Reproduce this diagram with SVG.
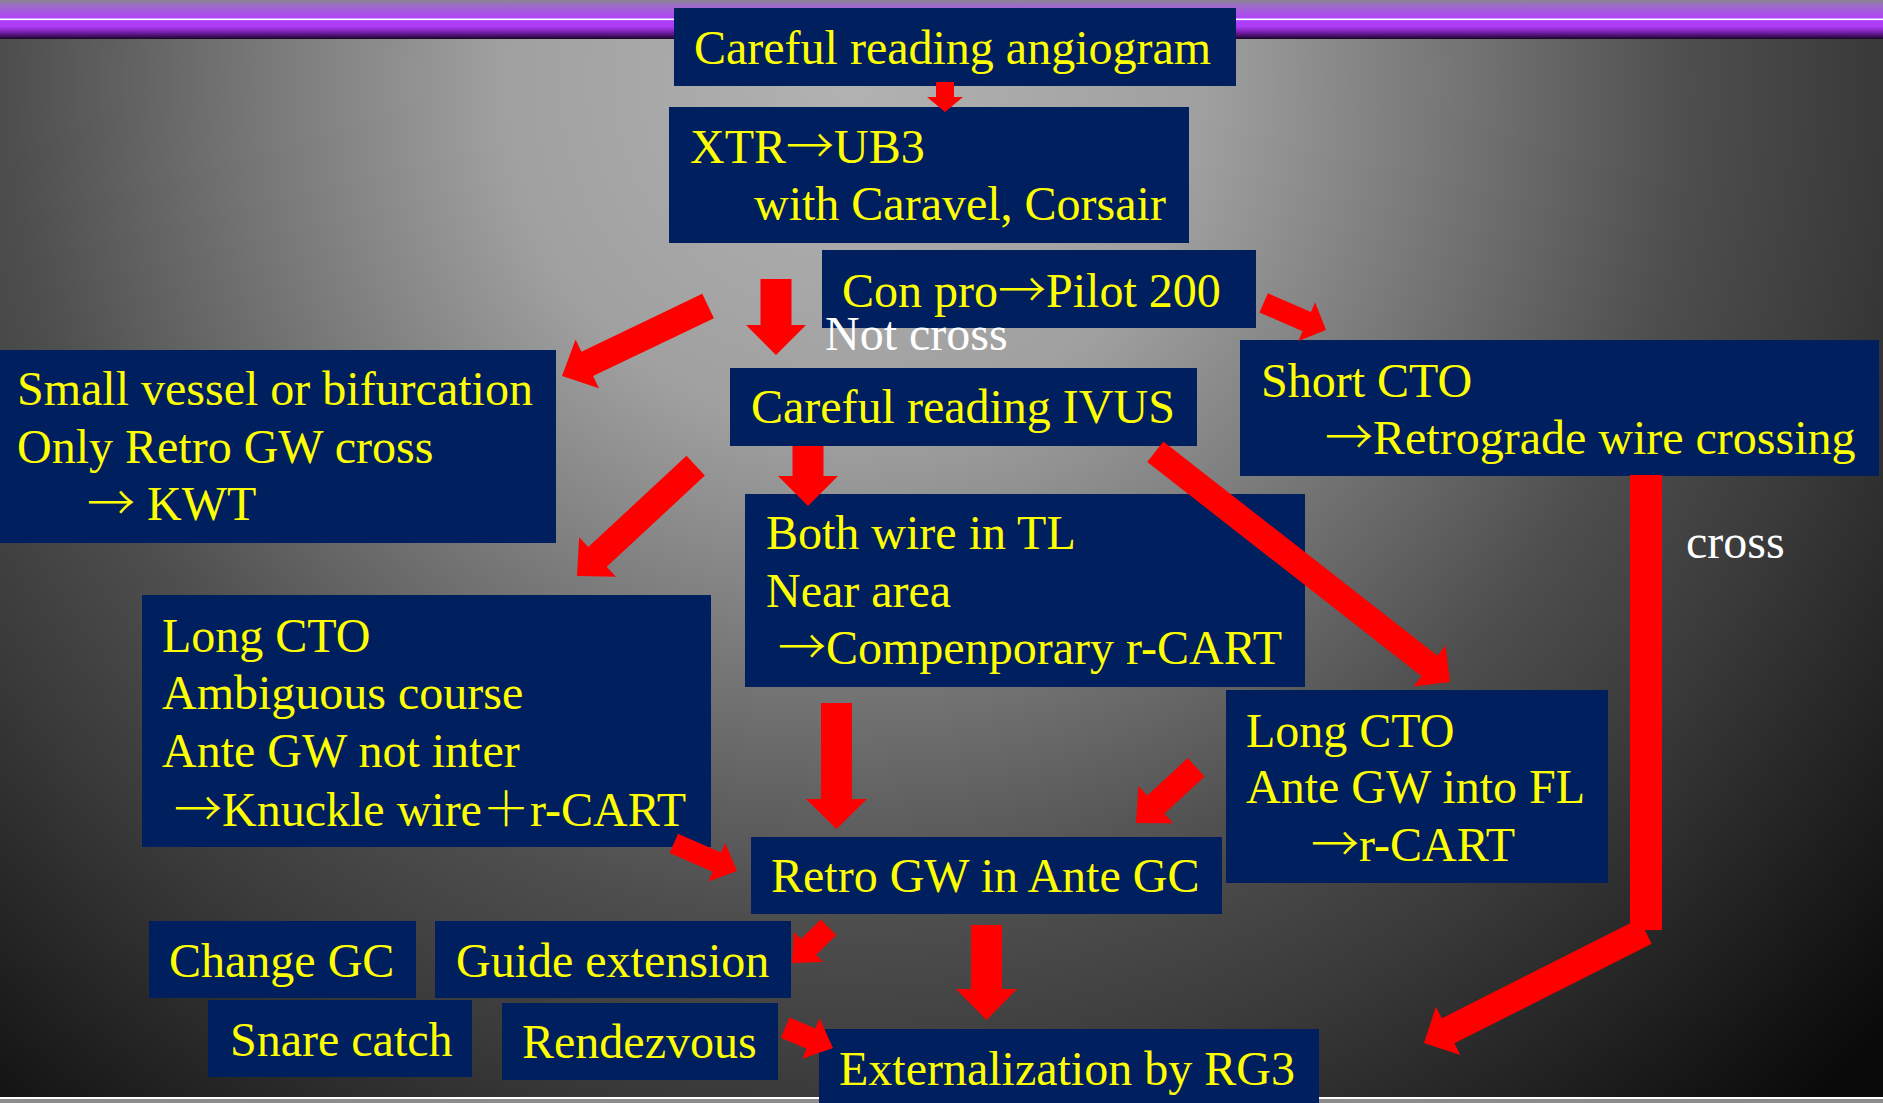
<svg xmlns="http://www.w3.org/2000/svg" width="1883" height="1103" viewBox="0 0 1883 1103">
<defs>
<radialGradient id="bg" gradientUnits="userSpaceOnUse" cx="850" cy="80" r="1400">
<stop offset="0" stop-color="#b2b2b2"/>
<stop offset="0.25" stop-color="#a0a0a0"/>
<stop offset="0.6" stop-color="#4e4e4e"/>
<stop offset="0.73" stop-color="#3a3a3a"/>
<stop offset="1" stop-color="#0a0a0a"/>
</radialGradient>
<linearGradient id="band" x1="0" y1="0" x2="0" y2="1">
<stop offset="0" stop-color="#8c8590"/>
<stop offset="0.12" stop-color="#9a70c0"/>
<stop offset="0.3" stop-color="#a658e0"/>
<stop offset="0.5" stop-color="#b040ff"/>
<stop offset="0.68" stop-color="#ae3cf6"/>
<stop offset="0.82" stop-color="#7a20b0"/>
<stop offset="1" stop-color="#1a0428"/>
</linearGradient>
<style>
.box{fill:#001F5F}
.t{font-family:"Liberation Serif",serif;font-size:48px;fill:#FFFF00}
.w{font-family:"Liberation Serif",serif;font-size:48px;fill:#FFFFFF}
.cjk{font-family:"Noto Sans CJK JP",sans-serif;font-weight:300}
.arr{fill:#FF0000}
</style>
</defs>
<rect x="0" y="0" width="1883" height="1103" fill="url(#bg)"/>
<rect x="0" y="0" width="1883" height="39" fill="url(#band)"/>
<rect x="0" y="18.5" width="1883" height="1.6" fill="#ffffff"/>
<rect x="0" y="1097" width="1883" height="2" fill="#ffffff"/>
<rect x="0" y="1099" width="1883" height="4" fill="#8c8c8c"/>

<g id="n-angiogram"><rect class="box" x="674" y="8" width="562" height="78"/><text class="t" x="694" y="64">Careful reading angiogram</text></g>
<g id="n-xtr"><rect class="box" x="669" y="107" width="520" height="136"/><text class="t" x="690" y="163">XTR<tspan class="cjk">→</tspan>UB3</text><text class="t" x="754" y="220">with Caravel, Corsair</text></g>
<g id="n-conpro"><rect class="box" x="822" y="250" width="434" height="78"/><text class="t" x="842" y="307">Con pro<tspan class="cjk">→</tspan>Pilot 200</text></g>
<g id="n-small"><rect class="box" x="0" y="350" width="556" height="193"/><text class="t" x="17" y="405">Small vessel or bifurcation</text><text class="t" x="17" y="463">Only Retro GW cross</text><text class="t" x="87" y="520"><tspan class="cjk">→</tspan> KWT</text></g>
<g id="n-ivus"><rect class="box" x="730" y="368" width="467" height="78"/><text class="t" x="751" y="423">Careful reading IVUS</text></g>
<g id="n-short"><rect class="box" x="1240" y="340" width="639" height="136"/><text class="t" x="1261" y="397">Short CTO</text><text class="t" x="1325" y="454"><tspan class="cjk">→</tspan>Retrograde wire crossing</text></g>
<g id="n-both"><rect class="box" x="745" y="494" width="560" height="193"/><text class="t" x="766" y="549">Both wire in TL</text><text class="t" x="766" y="607">Near area</text><text class="t" x="778" y="664"><tspan class="cjk">→</tspan>Compenporary r-CART</text></g>
<g id="n-longleft"><rect class="box" x="142" y="595" width="569" height="252"/><text class="t" x="162" y="652">Long CTO</text><text class="t" x="162" y="709">Ambiguous course</text><text class="t" x="162" y="767">Ante GW not inter</text><text class="t" x="174" y="826"><tspan class="cjk">→</tspan>Knuckle wire<tspan class="cjk">＋</tspan>r-CART</text></g>
<g id="n-longright"><rect class="box" x="1226" y="690" width="382" height="193"/><text class="t" x="1246" y="747">Long CTO</text><text class="t" x="1246" y="803">Ante GW into FL</text><text class="t" x="1311" y="861"><tspan class="cjk">→</tspan>r-CART</text></g>
<g id="n-retro"><rect class="box" x="751" y="837" width="471" height="77"/><text class="t" x="771" y="892">Retro GW in Ante GC</text></g>
<g id="n-changegc"><rect class="box" x="149" y="921" width="267" height="77"/><text class="t" x="169" y="977">Change GC</text></g>
<g id="n-guide"><rect class="box" x="435" y="921" width="356" height="77"/><text class="t" x="456" y="977">Guide extension</text></g>
<g id="n-snare"><rect class="box" x="208" y="1000" width="264" height="77"/><text class="t" x="230" y="1056">Snare catch</text></g>
<g id="n-rendezvous"><rect class="box" x="502" y="1003" width="276" height="77"/><text class="t" x="522" y="1058">Rendezvous</text></g>
<g id="n-ext"><rect class="box" x="819" y="1029" width="500" height="74"/><text class="t" x="839" y="1085">Externalization by RG3</text></g>

<g id="connectors" class="arr">
<polygon points="-30,-9 -15,-9 -15,-18 0,0 -15,18 -15,9 -30,9" transform="translate(945,112) rotate(90)"/>
<polygon points="-76,-15.5 -30,-15.5 -30,-30 0,0 -30,30 -30,15.5 -76,15.5" transform="translate(776,355) rotate(90)"/>
<polygon points="-162,-13.5 -28,-13.5 -28,-27 0,0 -28,27 -28,13.5 -162,13.5" transform="translate(562,376) rotate(154.4)"/>
<polygon points="-162,-13.5 -28,-13.5 -28,-27 0,0 -28,27 -28,13.5 -162,13.5" transform="translate(577,576) rotate(137.1)"/>
<polygon points="-68,-10.5 -21,-10.5 -21,-21 0,0 -21,21 -21,10.5 -68,10.5" transform="translate(1326,330) rotate(23.5)"/>
<polygon points="-60,-15.5 -30,-15.5 -30,-30 0,0 -30,30 -30,15.5 -60,15.5" transform="translate(808,506) rotate(90)"/>
<polygon points="-374,-13 -26,-13 -26,-26 0,0 -26,26 -26,13 -374,13" transform="translate(1450,682) rotate(38)"/>
<polygon points="-126,-15.5 -30,-15.5 -30,-30.5 0,0 -30,30.5 -30,15.5 -126,15.5" transform="translate(836.5,829) rotate(90)"/>
<polygon points="-82,-12.5 -27,-12.5 -27,-25.5 0,0 -27,25.5 -27,12.5 -82,12.5" transform="translate(1136,823) rotate(137.2)"/>
<rect x="1630" y="475" width="32" height="455"/>
<polygon points="-248,-14 -27,-14 -27,-27 0,0 -27,27 -27,14 -248,14" transform="translate(1424,1043) rotate(153.2)"/>
<polygon points="-69,-10.5 -22,-10.5 -22,-21 0,0 -22,21 -22,10.5 -69,10.5" transform="translate(737,871) rotate(23.6)"/>
<polygon points="-95,-15.5 -31,-15.5 -31,-30.5 0,0 -31,30.5 -31,15.5 -95,15.5" transform="translate(986.5,1020) rotate(90)"/>
<polygon points="-51,-11 -23,-11 -23,-21 0,0 -23,21 -23,11 -51,11" transform="translate(792,963) rotate(135.8)"/>
<polygon points="-52,-11 -24,-11 -24,-22 0,0 -24,22 -24,11 -52,11" transform="translate(833,1048) rotate(23.1)"/>
</g>
<text class="w" x="825" y="350">Not cross</text>
<text class="w" x="1686" y="558">cross</text>
</svg>
